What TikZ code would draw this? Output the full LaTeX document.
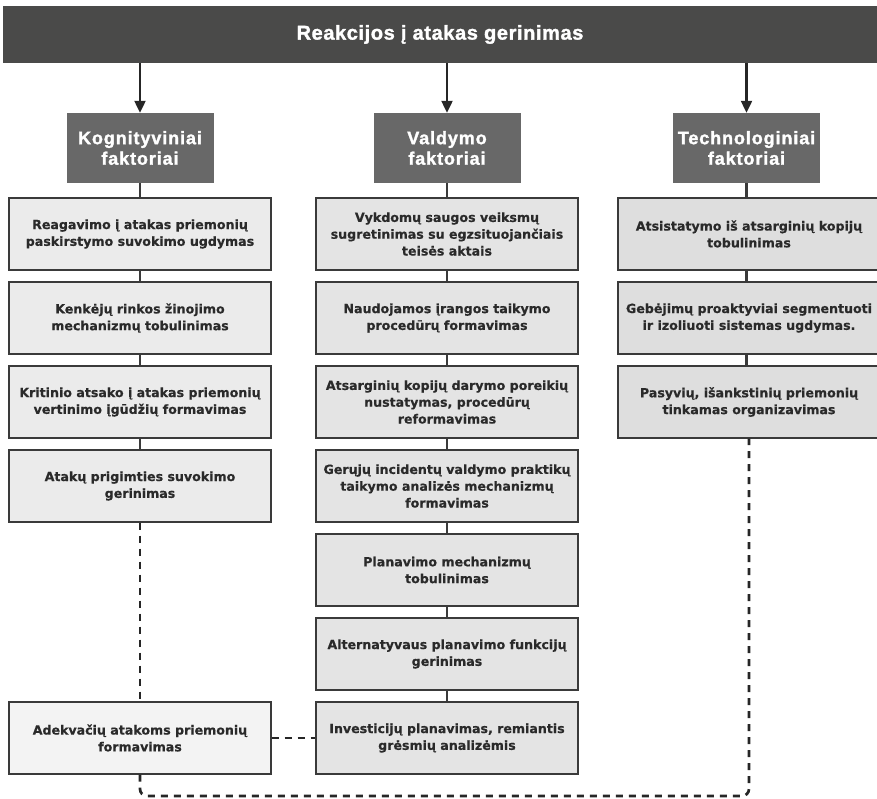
\documentclass[tikz,border=0pt]{standalone}
\usepackage{fontspec}
\setmainfont{DejaVu Sans}[BoldFeatures={FakeBold=0.5}]
\newfontfamily\headfont[LetterSpace=3, FakeBold=1.6]{Liberation Sans Bold}
\newfontfamily\factorfont[LetterSpace=5, FakeBold=1.6]{Liberation Sans Bold}
\usetikzlibrary{arrows.meta}

\definecolor{barfill}{HTML}{4A4A49}
\definecolor{headfill}{HTML}{686868}
\definecolor{edge}{HTML}{3A3A3A}
\definecolor{ink}{HTML}{2A2A2A}
\definecolor{colA}{HTML}{EBEBEB}
\definecolor{colB}{HTML}{E4E4E4}
\definecolor{colC}{HTML}{DEDEDE}
\definecolor{colD}{HTML}{F3F3F3}

\tikzset{
  titlebar/.style={fill=barfill, draw=none, text=white, inner sep=0pt,
    minimum width=874pt, minimum height=57pt,
    font=\headfont\fontsize{20}{24}\selectfont},
  factor/.style={fill=headfill, draw=none, text=white, inner sep=0pt,
    minimum width=147pt, minimum height=70pt, align=center,
    font=\factorfont\fontsize{18}{20.5}\selectfont},
  itembox/.style={draw=edge, line width=1.4pt, text=ink, inner sep=0pt,
    minimum width=262pt, minimum height=72pt, align=center,
    font=\bfseries\fontsize{12.6}{16.8}\selectfont},
  link/.style={draw=edge, line width=2.2pt},
  downarrow/.style={draw=black!85, line width=2.2pt,
    -{Triangle[length=12pt,width=11pt]}},
  looplink/.style={draw=black!85, line width=2.7pt, dash pattern=on 7pt off 6pt,
    rounded corners=7pt},
}

\begin{document}
\begin{tikzpicture}[x=1pt, y=-1pt]
\useasboundingbox (0,0) rectangle (877,798);
\clip (0,0) rectangle (877,798);

% title bar
\node[titlebar] (top) at (440,34.5) {Reakcijos į atakas gerinimas};

% factor headers
\node[factor] (fA) at (140,148) {Kognityviniai\\faktoriai};
\node[factor] (fB) at (447,148) {Valdymo\\faktoriai};
\node[factor] (fC) at (746.5,148) {Technologiniai\\faktoriai};

\draw[downarrow] (top.south -| fA) -- (fA.north);
\draw[downarrow] (top.south -| fB) -- (fB.north);
\draw[downarrow] (top.south -| fC) -- (fC.north);

% cognitive column
\node[itembox, fill=colA] (a1) at (140,234) {Reagavimo į atakas priemonių\\paskirstymo suvokimo ugdymas};
\node[itembox, fill=colA] (a2) at (140,318) {Kenkėjų rinkos žinojimo\\mechanizmų tobulinimas};
\node[itembox, fill=colA] (a3) at (140,402) {Kritinio atsako į atakas priemonių\\vertinimo įgūdžių formavimas};
\node[itembox, fill=colA] (a4) at (140,486) {Atakų prigimties suvokimo\\gerinimas};
\node[itembox, fill=colD] (a5) at (140,738) {Adekvačių atakoms priemonių\\formavimas};

% management column
\node[itembox, fill=colB] (b1) at (447,234) {Vykdomų saugos veiksmų\\sugretinimas su egzsituojančiais\\teisės aktais};
\node[itembox, fill=colB] (b2) at (447,318) {Naudojamos įrangos taikymo\\procedūrų formavimas};
\node[itembox, fill=colB] (b3) at (447,402) {Atsarginių kopijų darymo poreikių\\nustatymas, procedūrų\\reformavimas};
\node[itembox, fill=colB] (b4) at (447,486) {Gerųjų incidentų valdymo praktikų\\taikymo analizės mechanizmų\\formavimas};
\node[itembox, fill=colB] (b5) at (447,570) {Planavimo mechanizmų\\tobulinimas};
\node[itembox, fill=colB] (b6) at (447,654) {Alternatyvaus planavimo funkcijų\\gerinimas};
\node[itembox, fill=colB] (b7) at (447,738) {Investicijų planavimas, remiantis\\grėsmių analizėmis};

% technological column
\node[itembox, fill=colC] (c1) at (749,234) {Atsistatymo iš atsarginių kopijų\\tobulinimas};
\node[itembox, fill=colC] (c2) at (749,318) {Gebėjimų proaktyviai segmentuoti\\ir izoliuoti sistemas ugdymas.};
\node[itembox, fill=colC] (c3) at (749,402) {Pasyvių, išankstinių priemonių\\tinkamas organizavimas};

% solid links inside the columns
\draw[link] (fA.south) -- (a1.north);
\draw[link] (a1.south) -- (a2.north);
\draw[link] (a2.south) -- (a3.north);
\draw[link] (a3.south) -- (a4.north);

\draw[link] (fB.south) -- (fB.south |- b1.north);
\draw[link] (b1.south) -- (b2.north);
\draw[link] (b2.south) -- (b3.north);
\draw[link] (b3.south) -- (b4.north);
\draw[link] (b4.south) -- (b5.north);
\draw[link] (b5.south) -- (b6.north);
\draw[link] (b6.south) -- (b7.north);

\draw[link] (fC.south) -- (fC.south |- c1.north);
\draw[link] (c1.south -| fC) -- (c2.north -| fC);
\draw[link] (c2.south -| fC) -- (c3.north -| fC);

% dashed links
\draw[looplink] (a4.south) -- (a5.north);
\draw[looplink] (a5.east) -- (b7.west);
\draw[looplink] (a5.south) -- (140,796) -- (749,796) -- (c3.south);
\end{tikzpicture}
\end{document}
